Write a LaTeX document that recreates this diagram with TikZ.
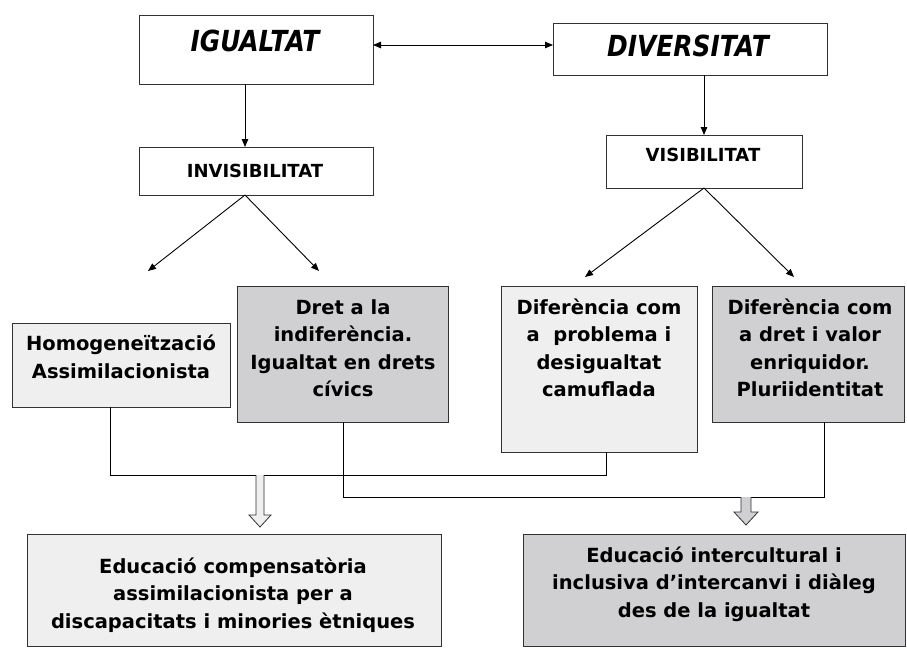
\documentclass[tikz,border=0pt]{standalone}
\usepackage{fontspec}
\setmainfont{DejaVu Sans}
\newfontfamily\ttlfont{DejaVu Sans}[FakeStretch=0.86]
\usetikzlibrary{arrows.meta,calc}
\definecolor{lightbox}{RGB}{238,239,238}
\definecolor{darkbox}{RGB}{208,208,211}
\definecolor{edge}{RGB}{50,50,50}
\begin{document}
\begin{tikzpicture}[x=1pt,y=-1pt,
  box/.style={draw=edge,line width=1pt,anchor=north west,inner sep=0pt,outer sep=0pt},
  txt/.style={font={\fontsize{19.5}{27.5}\selectfont\bfseries},align=center,inner sep=0pt,text=black},
  ttl/.style={font={\ttlfont\fontsize{29}{32}\selectfont\bfseries\itshape},inner sep=0pt,text=black},
  sub/.style={font={\fontsize{18}{22}\selectfont\bfseries},inner sep=0pt,text=black},
  arr/.style={line width=0.9pt,-{Triangle[length=8pt,width=6.5pt]}},
  darr/.style={line width=0.9pt,{Triangle[length=8pt,width=6.5pt]}-{Triangle[length=8pt,width=6.5pt]}},
  conn/.style={line width=1pt,draw=black},
  blk/.style={draw=edge,line width=0.8pt}]
\useasboundingbox (0,0) rectangle (907,648);
\fill[white] (0,0) rectangle (907,648);

% boxes
\node[box,fill=white,minimum width=234pt,minimum height=69pt] (igual) at (139,15) {};
\node[box,fill=white,minimum width=274pt,minimum height=52pt] (div) at (553,23) {};
\node[box,fill=white,minimum width=234pt,minimum height=48pt] (invis) at (139,147) {};
\node[box,fill=white,minimum width=196pt,minimum height=53pt] (vis) at (606,135) {};
\node[box,fill=lightbox,minimum width=218pt,minimum height=84pt] (homog) at (12,323) {};
\node[box,fill=darkbox,minimum width=211pt,minimum height=136pt] (dret) at (237,286) {};
\node[box,fill=lightbox,minimum width=196pt,minimum height=166pt] (difp) at (501,286) {};
\node[box,fill=darkbox,minimum width=192pt,minimum height=136pt] (difd) at (712,286) {};
\node[box,fill=lightbox,minimum width=414pt,minimum height=112pt] (edcomp) at (27,534) {};
\node[box,fill=darkbox,minimum width=382pt,minimum height=112pt] (edinter) at (523,534) {};

% texts
\node[ttl] (iguT) at (255,41) {IGUALTAT};
\node[ttl] (divT) at (688,46) {DIVERSITAT};
\node[sub] (invT) at (255,171) {INVISIBILITAT};
\node[sub] (visT) at (703,155) {VISIBILITAT};
\node[txt] (homT) at (121,357) {Homogeneïtzació\\Assimilacionista};
\node[txt] (dreT) at (343,348) {Dret a la\\indiferència.\\Igualtat en drets\\cívics};
\node[txt] (dipT) at (599,348) {Diferència com\\a\ \ problema i\\desigualtat\\camuflada};
\node[txt] (didT) at (810,348) {Diferència com\\a dret i valor\\enriquidor.\\Pluriidentitat};
\node[txt] (ecT) at (233,595) {Educació compensatòria\\assimilacionista per a\\discapacitats i minories ètniques};
\node[txt] (eiT) at (714,584) {Educació intercultural i\\inclusiva d’intercanvi i diàleg\\des de la igualtat};

% coordinates
\coordinate (ax) at (245,0);
\coordinate (t1) at (148,271);
\coordinate (t2) at (319,271);
\coordinate (t3) at (585,277);
\coordinate (t4) at (794,277);
\coordinate (j1) at (110,475);
\coordinate (j2) at (606,475);
\coordinate (j3) at (343,497);
\coordinate (j4) at (824,497);
\coordinate (b1) at (260,475);
\coordinate (b2) at (746,497);

% arrows
\draw[darr] ([yshift=4.5pt]igual.east) -- ([yshift=4.5pt]igual.east -| div.west);
\draw[arr] (igual.south -| ax) -- (invis.north -| ax);
\draw[arr] (div.south -| vis.north) -- (vis.north);
\draw[arr] (invis.south -| ax) -- (t1);
\draw[arr] (invis.south -| ax) -- (t2);
\draw[arr] (vis.south) -- (t3);
\draw[arr] (vis.south) -- (t4);

% connectors
\draw[conn] (homog.south -| j1) -- (j1) -- (j2) -- (difp.south -| j2);
\draw[conn] (dret.south -| j3) -- (j3) -- (j4) -- (difd.south -| j4);

% block arrows
\draw[blk,fill=lightbox] ($(b1)+(-4,0)$) -- ($(b1)+(-4,40)$) -- ($(b1)+(-11,40)$) -- ($(b1)+(0,52)$) -- ($(b1)+(11,40)$) -- ($(b1)+(4,40)$) -- ($(b1)+(4,0)$);
\draw[blk,fill=darkbox] ($(b2)+(-5,0)$) -- ($(b2)+(-5,15)$) -- ($(b2)+(-12,15)$) -- ($(b2)+(0,28)$) -- ($(b2)+(12,15)$) -- ($(b2)+(5,15)$) -- ($(b2)+(5,0)$);
\end{tikzpicture}
\end{document}
